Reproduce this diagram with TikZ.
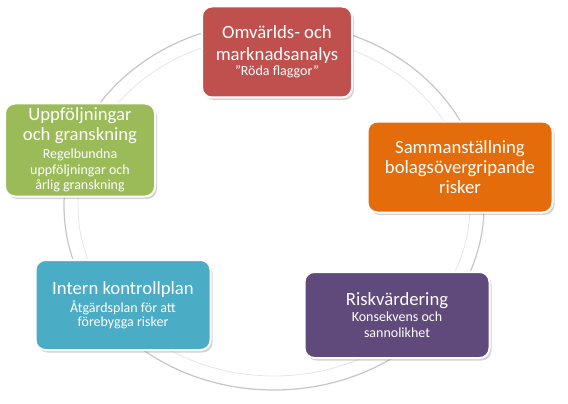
\documentclass[tikz,border=0pt]{standalone}
\usepackage{fontspec}
\setmainfont{Carlito}
\usepackage{tikz}
\newcommand*{\titleFont}{\fontsize{18.7}{22}\selectfont}
\newcommand*{\subFont}{\fontsize{14}{16}\selectfont}
\usetikzlibrary{positioning}
\usetikzlibrary{shadows}
\definecolor{boxRed}{HTML}{C0504D}
\definecolor{boxOrange}{HTML}{E46C0A}
\definecolor{boxGreen}{HTML}{9BBB59}
\definecolor{boxBlue}{HTML}{4BACC6}
\definecolor{boxPurple}{HTML}{604A7B}
\tikzset{phaseBox/.style={
    rectangle,
    rounded corners=10pt,
    draw=white,% thin white rim round each box
    line width=2pt,
    text=white,
    align=center,
    font=\titleFont,
    inner sep=2pt,
    drop shadow={opacity=0.35,shadow xshift=2pt,shadow yshift=-2.5pt}
  },
  ringEdge/.style={gray!45,line width=1.2pt}
}

\begin{document}
\begin{tikzpicture}[x=1pt,y=-1pt]
    \useasboundingbox (0,0) rectangle (568,404);

    % the ring behind the boxes
    \coordinate (ringCentre) at (274,206);
    \draw [ringEdge] (ringCentre) ellipse [x radius=210,y radius=184];
    \draw [gray!20,line width=0.8pt] (ringCentre) ellipse [x radius=196,y radius=170];

    \node [phaseBox,fill=boxRed,minimum width=150,minimum height=91]
        (omvarld) at (277,52)
        {Omvärlds- och\\ marknadsanalys\\[-7pt] \subFont ”Röda flaggor”};
    \node [phaseBox,fill=boxOrange,minimum width=185,minimum height=91]
        (samman) at (460,167)
        {Sammanställning\\[-2pt] bolagsövergripande\\[-2pt] risker};
    \node [phaseBox,fill=boxPurple,minimum width=185,minimum height=86]
        (riskvard) at (397,315)
        {Riskvärdering\\[-6pt] \subFont Konsekvens och\\[-6pt] \subFont sannolikhet};
    \node [phaseBox,fill=boxBlue,minimum width=175,minimum height=90]
        (intern) at (123,305)
        {Intern kontrollplan\\[-4pt] \subFont Åtgärdsplan för att\\[-8pt] \subFont förebygga risker};
    \node [phaseBox,fill=boxGreen,minimum width=150,minimum height=93]
        (uppfolj) at (80,150)
        {Uppföljningar\\[-2pt] och granskning\\[-4pt] \subFont Regelbundna\\[-6pt]
         \subFont uppföljningar och\\[-7pt] \subFont årlig granskning};
\end{tikzpicture}
\end{document}
